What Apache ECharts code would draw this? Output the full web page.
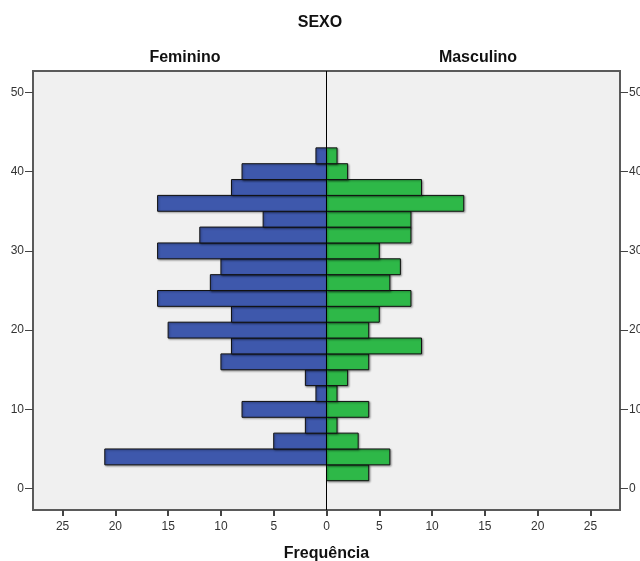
<!DOCTYPE html>
<html>
<head>
<meta charset="utf-8">
<script src="https://cdn.jsdelivr.net/npm/echarts@6/dist/echarts.min.js"></script>
<style>
  html, body { margin: 0; padding: 0; background: #fff; }
  #container { width: 640px; height: 561px; }
</style>
</head>
<body>
<div id="container"></div>
<script>
// histogram bins (idade), centre of each 2-unit bin, bottom to top
var binCenters = [2, 4, 6, 8, 10, 12, 14, 16, 18, 20, 22, 24, 26, 28, 30, 32, 34, 36, 38, 40, 42];
var feminino   = [0, 21, 5, 2, 8, 1, 2, 10, 9, 15, 9, 16, 11, 10, 16, 12, 6, 16, 9, 8, 1];
var masculino  = [4, 6, 3, 1, 4, 1, 2, 4, 9, 4, 5, 8, 6, 7, 5, 8, 8, 13, 9, 2, 1];
var binWidth = 2;

var yTicks = [0, 10, 20, 30, 40, 50];
var xTicks = [-25, -20, -15, -10, -5, 0, 5, 10, 15, 20, 25];

var FONT = '"Liberation Sans", Arial, sans-serif';

var dom = document.getElementById('container');
var myChart = echarts.init(dom, null, { renderer: 'canvas' });

function buildData(values, side) {
	var data = [];
	for (var i = 0; i < binCenters.length; i++) {
		data.push([binCenters[i] - binWidth / 2, binCenters[i] + binWidth / 2, values[i] * side]);
	}
	return data;
}

function renderBar(color) {
	return function(params, api) {
		var lo = api.value(0), hi = api.value(1), v = api.value(2);
		if (!v) return;
		var p1 = api.coord([Math.min(0, v), hi]);
		var p2 = api.coord([Math.max(0, v), lo]);
		return {
			type: 'rect',
			shape: { x: p1[0], y: p1[1], width: p2[0] - p1[0], height: p2[1] - p1[1] },
			style: {
				fill: color,
				stroke: '#111',
				lineWidth: 1,
				shadowColor: 'rgba(0,0,0,0.35)',
				shadowBlur: 2,
				shadowOffsetX: 1,
				shadowOffsetY: 1
			}
		};
	};
}

function yAxisOpt(pos) {
	return {
		type: 'value',
		position: pos,
		min: -2.7,
		max: 52.7,
		axisLine: { show: false, onZero: false },
		splitLine: { show: false },
		axisTick: {
			show: true, length: 8, customValues: yTicks,
			lineStyle: { color: '#444', width: 1 }
		},
		axisLabel: {
			customValues: yTicks, margin: 9,
			fontFamily: FONT, fontSize: 12, color: '#333'
		}
	};
}

var titleStyle = { fontFamily: FONT, fontSize: 16, fontWeight: 'bold', color: '#111' };

var option = {
	backgroundColor: '#fff',
	animation: false,
	title: [{
		text: 'SEXO',
		left: 'center',
		top: 10,
		textStyle: titleStyle
	}, {
		text: 'Feminino',
		left: 180,
		textAlign: 'center',
		top: 45,
		textStyle: titleStyle
	}, {
		text: 'Masculino',
		left: 473,
		textAlign: 'center',
		top: 45,
		textStyle: titleStyle
	}],
	grid: {
		left: 33,
		right: 20,
		top: 71,
		bottom: 51,
		outerBoundsMode: 'none',
		containLabel: false,
		show: true,
		backgroundColor: '#f0f0f0',
		borderColor: '#5a5a5a',
		borderWidth: 2
	},
	xAxis: {
		type: 'value',
		min: -27.8,
		max: 27.8,
		name: 'Frequência',
		nameLocation: 'middle',
		nameGap: 36,
		nameTextStyle: titleStyle,
		axisLine: { show: false, onZero: false },
		splitLine: { show: false },
		axisTick: {
			show: true, length: 6, customValues: xTicks,
			lineStyle: { color: '#444', width: 2 }
		},
		axisLabel: {
			customValues: xTicks,
			margin: 11,
			fontFamily: FONT,
			fontSize: 12,
			color: '#333',
			formatter: function(v) { return Math.abs(v); }
		}
	},
	yAxis: [yAxisOpt('left'), yAxisOpt('right')],
	series: [{
		name: 'Feminino',
		type: 'custom',
		renderItem: renderBar('#3e58ac'),
		encode: { x: 2, y: [0, 1] },
		data: buildData(feminino, -1),
		silent: true,
		z: 3
	}, {
		name: 'Masculino',
		type: 'custom',
		renderItem: renderBar('#2eb848'),
		encode: { x: 2, y: [0, 1] },
		data: buildData(masculino, 1),
		silent: true,
		z: 3,
		markLine: {
			silent: true,
			symbol: 'none',
			label: { show: false },
			lineStyle: { color: '#000', width: 1, type: 'solid' },
			data: [{ xAxis: 0 }],
			z: 5
		}
	}]
};

myChart.setOption(option);

window.addEventListener('resize', function() {
	myChart.resize();
});
</script>
</body>
</html>
